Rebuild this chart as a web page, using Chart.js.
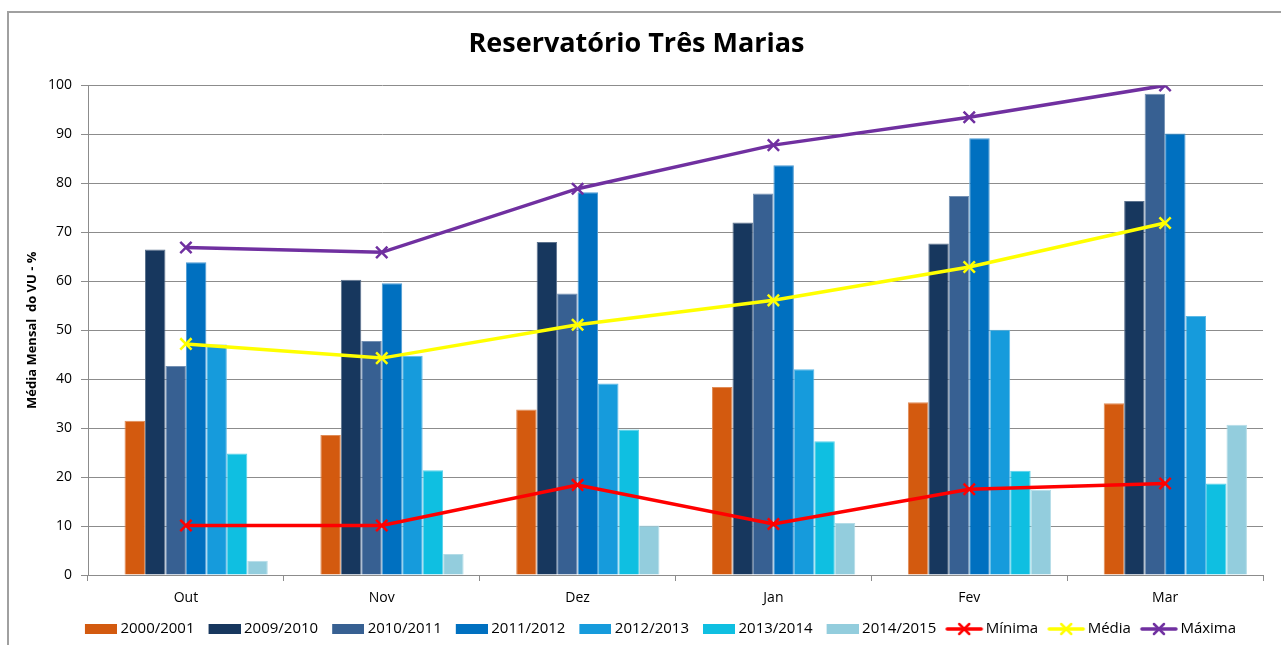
<!DOCTYPE html>
<html><head><meta charset="utf-8">
<script src="https://cdn.jsdelivr.net/npm/chart.js@4"></script>
<style>
html,body{margin:0;padding:0;background:#fff;overflow:hidden;width:1281px;height:645px;}
#frame{position:absolute;left:7px;top:11px;width:1400px;height:800px;border-left:2px solid #a0a0a0;border-top:2px solid #a0a0a0;box-sizing:border-box;}
#c{position:absolute;left:0;top:0;}
</style></head><body>
<div id="frame"></div>
<canvas id="c" width="1281" height="680"></canvas>
<script>
const categories = ['Out', 'Nov', 'Dez', 'Jan', 'Fev', 'Mar'];
const s2000_2001 = [31.5, 28.6, 33.8, 38.4, 35.3, 35.1];
const s2009_2010 = [66.5, 60.3, 68.0, 72.0, 67.7, 76.4];
const s2010_2011 = [42.7, 47.8, 57.5, 77.9, 77.4, 98.3];
const s2011_2012 = [63.9, 59.6, 78.2, 83.7, 89.2, 90.2];
const s2012_2013 = [47.1, 44.8, 39.1, 42.0, 50.1, 52.9];
const s2013_2014 = [24.8, 21.4, 29.7, 27.3, 21.3, 18.7];
const s2014_2015 = [2.9, 4.3, 10.1, 10.6, 17.4, 30.7];
const minima = [10.1, 10.1, 18.4, 10.4, 17.5, 18.7];
const media = [47.2, 44.3, 51.1, 56.1, 62.9, 71.9];
const maxima = [66.9, 65.9, 78.9, 87.8, 93.5, 100];
const emptySlot = [null, null, null, null, null, null];
const yTicks = [0, 10, 20, 30, 40, 50, 60, 70, 80, 90, 100];

const FONT = "'Open Sans', 'DejaVu Sans', sans-serif";

function tint(hex, f) {
  const n = parseInt(hex.slice(1), 16);
  const r = (n >> 16) & 255, g = (n >> 8) & 255, b = n & 255;
  const m = v => Math.round(v + (255 - v) * f);
  return `rgb(${m(r)},${m(g)},${m(b)})`;
}
function barIcon(color) {
  const c = document.createElement('canvas');
  c.width = 36; c.height = 10;
  const g = c.getContext('2d');
  g.fillStyle = color; g.fillRect(4, 0, 32, 10);
  return c;
}
function lineIcon(color) {
  const c = document.createElement('canvas');
  c.width = 44; c.height = 14;
  const g = c.getContext('2d');
  g.strokeStyle = color; g.lineWidth = 3.5; g.lineCap = 'round';
  g.beginPath(); g.moveTo(5, 7); g.lineTo(39, 7); g.stroke();
  g.lineWidth = 2.5;
  g.beginPath(); g.moveTo(17, 2); g.lineTo(27, 12); g.moveTo(27, 2); g.lineTo(17, 12); g.stroke();
  return c;
}

const barSeries = [
  ['2000/2001', s2000_2001, '#D35A0F'],
  ['2009/2010', s2009_2010, '#17375E'],
  ['2010/2011', s2010_2011, '#376092'],
  ['2011/2012', s2011_2012, '#0070C0'],
  ['2012/2013', s2012_2013, '#169BDC'],
  ['2013/2014', s2013_2014, '#0FBFE1'],
  ['2014/2015', s2014_2015, '#93CDDD']
];
const lineSeries = [
  ['Mínima', minima, '#FF0000'],
  ['Média', media, '#FFFF00'],
  ['Máxima', maxima, '#7030A0']
];

const datasets = [{label: '', data: emptySlot, backgroundColor: 'transparent', order: 1}];
barSeries.forEach(([label, data, color]) => datasets.push({
  type: 'bar', label, data, backgroundColor: color,
  borderColor: tint(color, 0.3), borderWidth: 1, order: 1,
  icon: barIcon(color)
}));
lineSeries.forEach(([label, data, color]) => datasets.push({
  type: 'line', label, data, borderColor: color, backgroundColor: color,
  borderWidth: 3.5, tension: 0, pointStyle: 'crossRot', pointRadius: 8,
  pointBorderWidth: 2.5, pointBorderColor: color, order: 0,
  icon: lineIcon(color)
}));

const shiftLegend = {
  id: 'shiftLegend',
  afterLayout(chart) {
    chart.legend.left += 24;
    chart.legend.right += 24;
  }
};

new Chart(document.getElementById('c'), {
  type: 'bar',
  data: {labels: categories, datasets},
  plugins: [shiftLegend],
  options: {
    responsive: false,
    animation: false,
    devicePixelRatio: 1,
    layout: {padding: {top: 10, left: 10, right: 18, bottom: 33.5}},
    datasets: {bar: {categoryPercentage: 0.836, barPercentage: 1}},
    plugins: {
      title: {
        display: true, text: 'Reservatório Três Marias', color: '#000',
        font: {family: FONT, size: 27, weight: 'bold'},
        padding: {top: 18.5, bottom: 24.5}
      },
      tooltip: {enabled: false},
      legend: {
        position: 'bottom',
        labels: {
          usePointStyle: true, pointStyleWidth: 28, padding: 14, color: '#000',
          font: {family: FONT, size: 15},
          generateLabels(chart) {
            return chart.data.datasets.map((ds, i) => ({
              text: ds.label, pointStyle: ds.icon, datasetIndex: i,
              hidden: false, lineWidth: 0, fontColor: '#000',
              fillStyle: 'transparent', strokeStyle: 'transparent'
            })).filter(it => it.text);
          }
        }
      }
    },
    scales: {
      x: {
        offset: true,
        grid: {display: true, drawOnChartArea: false, drawTicks: true, tickLength: 6, color: '#8c8c8c', offset: true},
        border: {display: true, color: '#8c8c8c', width: 1},
        ticks: {font: {family: FONT, size: 14}, color: '#000', padding: 9},
        afterFit: s => { s.height = 32.5; }
      },
      y: {
        min: 0, max: 100,
        afterBuildTicks: s => { s.ticks = yTicks.map(v => ({value: v})); },
        ticks: {font: {family: FONT, size: 14}, color: '#000', padding: 9},
        grid: {color: '#8c8c8c', tickLength: 7, lineWidth: 1},
        border: {display: true, color: '#8c8c8c', width: 1},
        title: {
          display: true, text: 'Média Mensal  do VU - %', color: '#000',
          font: {family: FONT, size: 13, weight: 'bold'}, padding: {top: 14, bottom: 0}
        },
        afterFit: s => { s.width = 78; }
      }
    }
  }
});
</script>
</body></html>
